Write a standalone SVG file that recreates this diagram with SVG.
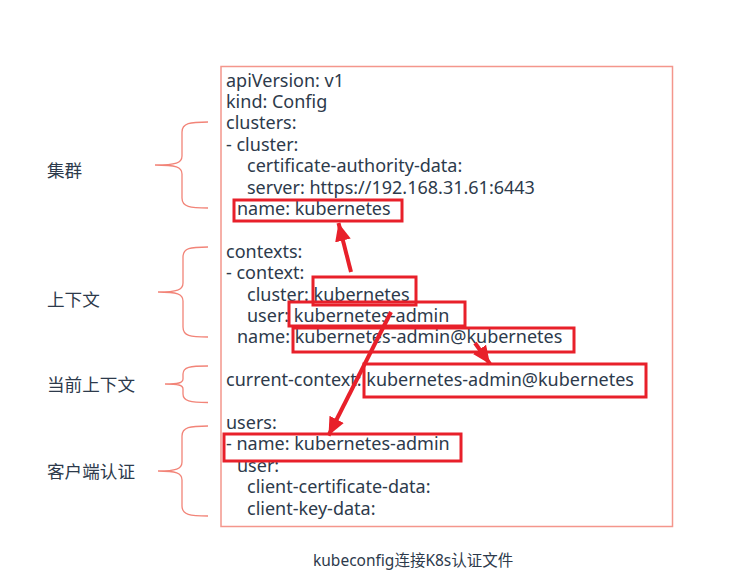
<svg xmlns="http://www.w3.org/2000/svg" width="747" height="587" viewBox="0 0 747 587">
<defs>
<style>
.t{font-family:"Noto Sans","Open Sans","Liberation Sans",sans-serif;font-size:18px;fill:#2d3a4b}
.c{font-family:"Noto Sans CJK SC","Noto Sans",sans-serif;font-size:17.6px;fill:#2d3a4b}
.cap{font-family:"Noto Sans","Noto Sans CJK SC",sans-serif;font-size:15.5px;fill:#2d3a4b}
.brace{fill:none;stroke:#f28478;stroke-width:1.3}
.hl{fill:none;stroke:#e8202a;stroke-width:3}
.arr{stroke:#e8202a;stroke-width:4;fill:none}
</style>
<marker id="ah" markerUnits="userSpaceOnUse" markerWidth="22" markerHeight="20" refX="18" refY="8" orient="auto">
<path d="M0,0 L18,8 L0,16 Z" fill="#e8202a"/>
</marker>
</defs>
<rect width="747" height="587" fill="#ffffff"/>
<g id="config-box">
<rect x="221" y="66.5" width="451.5" height="460" fill="none" stroke="#f4968c" stroke-width="1.5"/>
<text class="t" x="226" y="86.5">apiVersion: v1</text>
<text class="t" x="226" y="107.9">kind: Config</text>
<text class="t" x="226" y="129.3">clusters:</text>
<text class="t" x="226" y="150.7">- cluster:</text>
<text class="t" x="247" y="172.1">certificate-authority-data:</text>
<text class="t" x="247" y="193.5">server: https://192.168.31.61:6443</text>
<text class="t" x="237" y="214.9">name: kubernetes</text>
<text class="t" x="226" y="257.7">contexts:</text>
<text class="t" x="226" y="279.1">- context:</text>
<text class="t" x="247" y="300.5">cluster: kubernetes</text>
<text class="t" x="247" y="321.9">user: kubernetes-admin</text>
<text class="t" x="237" y="343.3">name: kubernetes-admin@kubernetes</text>
<text class="t" x="226" y="386.1">current-context: kubernetes-admin@kubernetes</text>
<text class="t" x="226" y="428.9">users:</text>
<text class="t" x="226" y="450.3">- name: kubernetes-admin</text>
<text class="t" x="237" y="471.7">user:</text>
<text class="t" x="247" y="493.1">client-certificate-data:</text>
<text class="t" x="247" y="514.5">client-key-data:</text>
</g>
<g id="highlights">
<rect class="hl" x="234" y="200" width="168" height="21"/>
<rect class="hl" x="313" y="277" width="103" height="28"/>
<rect class="hl" x="289" y="302" width="176" height="24"/>
<rect class="hl" x="293" y="328" width="281" height="24"/>
<rect class="hl" x="364" y="364" width="282" height="33"/>
<rect class="hl" x="224" y="434" width="237" height="27"/>
</g>
<g id="group-cluster">
<path class="brace" d="M208,122 C190,122 182,123 182,132 L182,156 C182,163 176,165 155,165 C176,165 182,167 182,174 L182,198 C182,207 190,208 208,208"/>
<text class="c" x="47" y="177">集群</text>
</g>
<g id="group-context">
<path class="brace" d="M208,247 C190,247 183,248 183,257 L183,283 C183,290 177,292 158,292 C177,292 183,294 183,301 L183,327 C183,336 190,337 208,337"/>
<text class="c" x="47" y="306">上下文</text>
</g>
<g id="group-current">
<path class="brace" d="M208,366 C190,366 183,367 183,374 L183,379 C183,383 178,384 165,384 C178,384 183,385 183,389 L183,394 C183,401 190,402.5 208,402.5"/>
<text class="c" x="47" y="391">当前上下文</text>
</g>
<g id="group-users">
<path class="brace" d="M208,426 C190,426 182,427 182,436 L182,462 C182,469 176,471 158,471 C176,471 182,473 182,480 L182,506 C182,515 190,516 208,516"/>
<text class="c" x="47" y="478">客户端认证</text>
</g>
<g id="connectors">
<line class="arr" x1="351" y1="272" x2="338.5" y2="223" marker-end="url(#ah)"/>
<line class="arr" x1="391" y1="312" x2="328.5" y2="435.5" marker-end="url(#ah)"/>
<line class="arr" x1="475" y1="343" x2="490" y2="364" marker-end="url(#ah)"/>
</g>
<text class="cap" x="313" y="566">kubeconfig连接K8s认证文件</text>
</svg>
